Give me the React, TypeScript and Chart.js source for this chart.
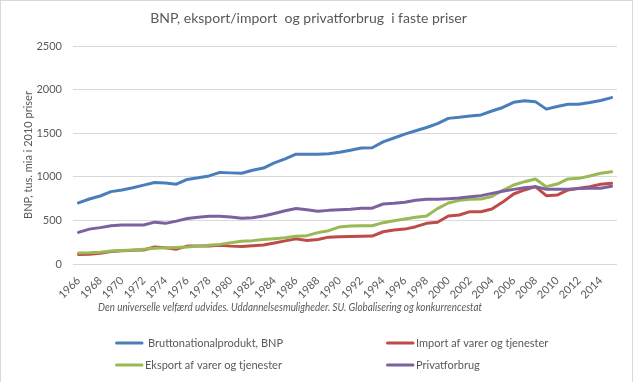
import React, { useEffect, useRef } from 'react';
import { Chart, registerables } from 'chart.js';

Chart.register(...registerables);

const chartTitle = 'BNP, eksport/import  og privatforbrug  i faste priser';
const yAxisTitle = 'BNP, tus. mia i 2010 priser';
const caption = 'Den universelle velfærd udvides. Uddannelsesmuligheder. SU. Globalisering og konkurrencestat';

const years = [
  '1966', '1967', '1968', '1969', '1970', '1971', '1972', '1973', '1974', '1975',
  '1976', '1977', '1978', '1979', '1980', '1981', '1982', '1983', '1984', '1985',
  '1986', '1987', '1988', '1989', '1990', '1991', '1992', '1993', '1994', '1995',
  '1996', '1997', '1998', '1999', '2000', '2001', '2002', '2003', '2004', '2005',
  '2006', '2007', '2008', '2009', '2010', '2011', '2012', '2013', '2014', '2015',
];

const bnp = [
  700, 745, 780, 830, 848, 875, 905, 935, 928, 915,
  970, 988, 1010, 1050, 1045, 1040, 1075, 1100, 1160, 1205,
  1260, 1260, 1258, 1265, 1282, 1305, 1330, 1333, 1400, 1445,
  1490, 1528, 1565, 1610, 1670, 1682, 1697, 1710, 1755, 1795,
  1854, 1873, 1862, 1776, 1806, 1832, 1832, 1852, 1875, 1908,
];

const importVals = [
  110, 112, 122, 142, 152, 158, 160, 195, 185, 170,
  205, 205, 207, 215, 205, 200, 208, 218, 240, 265,
  288, 270, 280, 308, 312, 315, 318, 320, 370, 390,
  400, 428, 466, 478, 550, 562, 600, 600, 630, 710,
  803, 849, 887, 784, 791, 849, 868, 887, 914, 925,
];

const eksport = [
  125, 128, 135, 148, 155, 160, 170, 180, 185, 190,
  195, 205, 215, 225, 245, 260, 268, 280, 290, 302,
  318, 325, 360, 382, 425, 436, 438, 438, 474, 495,
  515, 535, 550, 635, 700, 730, 742, 745, 775, 845,
  906, 944, 975, 887, 917, 975, 982, 1009, 1040, 1059,
];

const privatforbrug = [
  363, 400, 417, 438, 447, 448, 448, 480, 466, 492,
  522, 535, 547, 547, 539, 524, 531, 550, 580, 610,
  636, 622, 605, 615, 622, 628, 638, 640, 688, 696,
  707, 730, 742, 742, 749, 757, 772, 784, 810, 835,
  856, 875, 887, 858, 858, 858, 866, 868, 868, 892,
];

const seriesLabels = [
  'Bruttonationalprodukt, BNP',
  'Import af varer og tjenester',
  'Eksport af varer og tjenester',
  'Privatforbrug',
];

const yTickValues = [0, 500, 1000, 1500, 2000, 2500];

const COLORS = ['#4a7ebb', '#be4b48', '#98b954', '#7d60a0'];
const TEXT = '#595959';
const GRID = '#d9d9d9';
const FONT = 'Lato';

const overlayPlugin = {
  id: 'overlay',
  afterDraw(chart: any) {
    const ctx = chart.ctx;
    ctx.save();
    // caption under x axis
    ctx.fillStyle = TEXT;
    ctx.font = `italic 10.5px ${FONT}`;
    ctx.textAlign = 'center';
    ctx.textBaseline = 'middle';
    ctx.fillText(caption, 290, 308, 384);

    // legend (2 x 2)
    const lineX = [115, 386];
    const rowY = [343, 365];
    const textX = [148, 416, 145, 416];
    const maxW = [138, 137, 140, 68];
    chart.data.datasets.forEach((ds: any, i: number) => {
      const col = i % 2;
      const row = Math.floor(i / 2);
      const y = rowY[row];
      ctx.strokeStyle = ds.borderColor;
      ctx.lineWidth = 3;
      ctx.lineCap = 'round';
      ctx.beginPath();
      ctx.moveTo(lineX[col] + 1.5, y);
      ctx.lineTo(lineX[col] + 27, y);
      ctx.stroke();
      ctx.fillStyle = TEXT;
      ctx.font = `11px ${FONT}`;
      ctx.textAlign = 'left';
      ctx.textBaseline = 'middle';
      ctx.fillText(ds.label, textX[i], y, maxW[i]);
    });
    ctx.restore();
  },
};

export default function App() {
  const canvasRef = useRef<HTMLCanvasElement | null>(null);

  useEffect(() => {
    if (!canvasRef.current) return;
    const seriesData = [bnp, importVals, eksport, privatforbrug];
    const chart = new Chart(canvasRef.current, {
      type: 'line',
      data: {
        labels: years,
        datasets: seriesData.map((d, i) => ({
          label: seriesLabels[i],
          data: d,
          borderColor: COLORS[i],
          backgroundColor: COLORS[i],
          borderWidth: 3,
          pointRadius: 0,
          tension: 0,
          borderJoinStyle: 'round' as const,
          borderCapStyle: 'round' as const,
          order: 4 - i,
        })),
      },
      options: {
        responsive: false,
        animation: false,
        layout: { padding: { left: 0, right: 16, top: 0, bottom: 0 } },
        plugins: {
          legend: { display: false },
          tooltip: { enabled: false },
          title: {
            display: true,
            text: chartTitle,
            color: TEXT,
            font: { family: FONT, size: 14, weight: 'normal' },
            padding: { top: 9.6, bottom: 19.6 },
          },
        },
        scales: {
          x: {
            type: 'category',
            offset: true,
            grid: { display: false },
            border: { display: false },
            ticks: {
              autoSkip: false,
              maxRotation: 45,
              minRotation: 45,
              padding: 2,
              color: TEXT,
              font: { family: FONT, size: 11 },
              callback: (_v: any, i: number) => (i % 2 === 0 ? years[i] : ''),
            },
            afterFit: (scale: any) => {
              scale.height = 118;
            },
          },
          y: {
            min: 0,
            max: 2500,
            afterBuildTicks: (scale: any) => {
              scale.ticks = yTickValues.map((v) => ({ value: v }));
            },
            grid: { color: GRID, lineWidth: 1, drawTicks: false },
            border: { display: false },
            ticks: {
              padding: 11,
              color: TEXT,
              font: { family: FONT, size: 11 },
              callback: (v: any) => String(v),
            },
            title: {
              display: true,
              text: yAxisTitle,
              color: TEXT,
              font: { family: FONT, size: 11 },
              padding: { top: 21.4, bottom: 0 },
            },
            afterFit: (scale: any) => {
              scale.width = 73;
            },
          },
        },
      },
      plugins: [overlayPlugin],
    });
    return () => chart.destroy();
  }, []);

  return (
    <div style={{ position: 'absolute', left: 0, top: 0, width: 633, height: 382, background: '#fff' }}>
      <canvas
        ref={canvasRef}
        width={633}
        height={382}
        style={{ position: 'absolute', left: 0, top: 0, width: 633, height: 382 }}
      />
      <div
        style={{
          position: 'absolute',
          left: 0,
          top: 0,
          width: 633,
          height: 384,
          boxSizing: 'border-box',
          border: `1px solid ${GRID}`,
          pointerEvents: 'none',
        }}
      />
    </div>
  );
}
